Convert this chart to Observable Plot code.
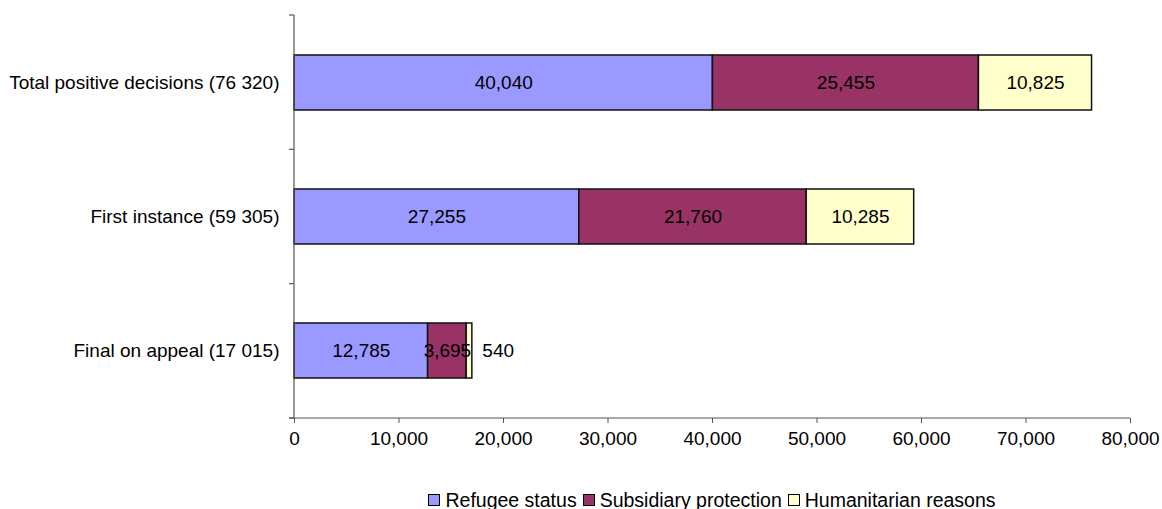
<!DOCTYPE html>
<html>
<head>
<meta charset="utf-8">
<script src="https://cdn.jsdelivr.net/npm/d3@7"></script>
<script src="https://cdn.jsdelivr.net/npm/@observablehq/plot@0.6"></script>
<style>
  html, body { margin: 0; padding: 0; background: #fff; }
  body { font-family: "Liberation Sans", Arial, sans-serif; color: #000; }
  #legend { margin-left: 294px; width: 836px; text-align: center; font-size: 19.5px; padding-top: 29px; white-space: nowrap; }
  #legend .item { display: inline-block; margin: 0 3px; }
  #legend .sw { display: inline-block; width: 10px; height: 10px; border: 1px solid #000; margin-right: 5px; vertical-align: 1px; }
</style>
</head>
<body>
<div id="chart"></div>
<div id="legend"></div>
<script>
const categories = ["Total positive decisions (76 320)", "First instance (59 305)", "Final on appeal (17 015)"];
const seriesNames = ["Refugee status", "Subsidiary protection", "Humanitarian reasons"];
const seriesColors = ["#9999FF", "#993366", "#FFFFCC"];
const refugeeStatus = [40040, 27255, 12785];
const subsidiaryProtection = [25455, 21760, 3695];
const humanitarianReasons = [10825, 10285, 540];
const xTicks = [0, 10000, 20000, 30000, 40000, 50000, 60000, 70000, 80000];

const seriesValues = [refugeeStatus, subsidiaryProtection, humanitarianReasons];
const data = [];
seriesNames.forEach((s, si) => {
  categories.forEach((c, ci) => data.push({category: c, series: s, value: seriesValues[si][ci]}));
});
const fmt = d3.format(",");
const FS = 19;

function axisLines(index, scales, values, dims) {
  const {width, height, marginLeft, marginRight, marginTop, marginBottom} = dims;
  const g = d3.create("svg:g").attr("stroke", "#555").attr("stroke-width", 1.2);
  const y0 = marginTop, y1 = height - marginBottom;
  g.append("line").attr("x1", marginLeft).attr("x2", marginLeft).attr("y1", y0).attr("y2", y1);
  g.append("line").attr("x1", marginLeft - 5).attr("x2", width - marginRight).attr("y1", y1).attr("y2", y1);
  const n = categories.length;
  for (let i = 0; i <= n; i++) {
    const y = y0 + i * (y1 - y0) / n;
    g.append("line").attr("x1", marginLeft - 5).attr("x2", marginLeft).attr("y1", y).attr("y2", y);
  }
  return g.node();
}

const chart = Plot.plot({
  width: 1162,
  height: 460,
  marginLeft: 294,
  marginRight: 32,
  marginTop: 15,
  marginBottom: 42,
  style: {fontFamily: '"Liberation Sans", Arial, sans-serif', fontSize: FS + "px", color: "#000", background: "#fff"},
  x: {domain: [0, 80000], ticks: xTicks},
  y: {domain: categories, paddingInner: 0.59, paddingOuter: 0.295},
  color: {domain: seriesNames, range: seriesColors},
  marks: [
    Plot.barX(data, {x: "value", y: "category", fill: "series", z: "series", order: seriesNames, stroke: "#111", strokeWidth: 1.5}),
    Plot.text(data, Plot.stackX({x: "value", y: "category", z: "series", order: seriesNames,
      text: d => d.value >= 1000 ? fmt(d.value) : null, fill: "#000", fontSize: FS})),
    Plot.text(data, Plot.stackX2({x: "value", y: "category", z: "series", order: seriesNames,
      text: d => d.value < 1000 ? fmt(d.value) : null, textAnchor: "start", dx: 10, fill: "#000", fontSize: FS})),
    Plot.axisX({ticks: xTicks, tickFormat: d => fmt(d), tickSize: 5, tickPadding: 8, fontSize: FS, stroke: "#555", label: null}),
    Plot.axisY({tickSize: 0, tickPadding: 15, fontSize: FS, label: null}),
    axisLines
  ]
});
document.getElementById("chart").appendChild(chart);

const legend = document.getElementById("legend");
seriesNames.forEach((s, i) => {
  const item = document.createElement("span");
  item.className = "item";
  const sw = document.createElement("span");
  sw.className = "sw";
  sw.style.background = seriesColors[i];
  item.appendChild(sw);
  item.appendChild(document.createTextNode(s));
  legend.appendChild(item);
});
</script>
</body>
</html>
